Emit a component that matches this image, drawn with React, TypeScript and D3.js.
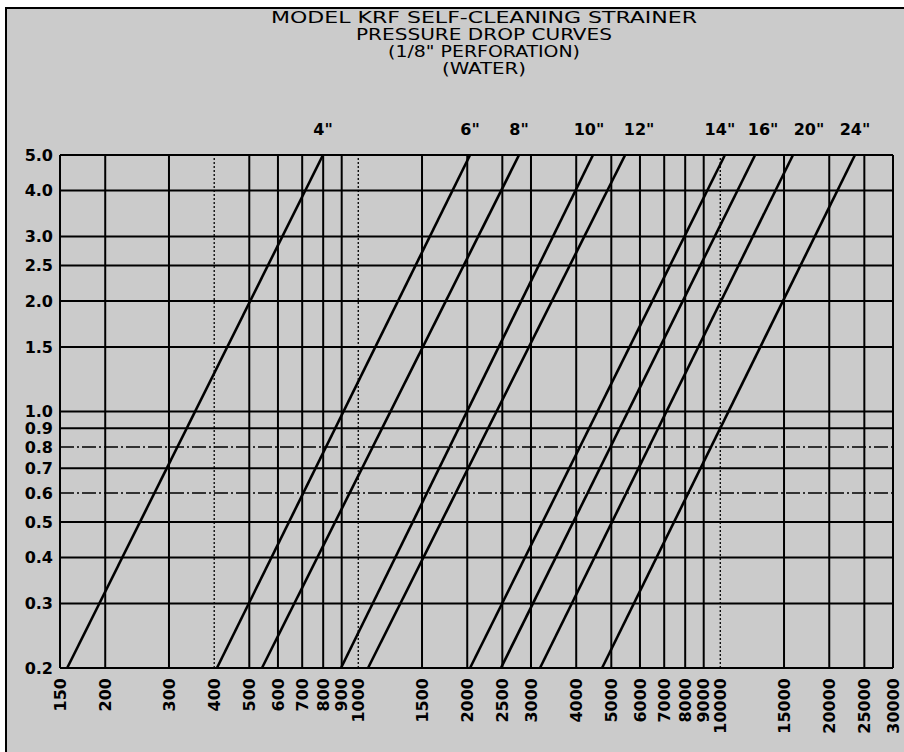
import React, { useEffect, useRef } from 'react';
import * as d3 from 'd3';

// title lines
const titleLines = [
  'MODEL KRF SELF-CLEANING STRAINER',
  'PRESSURE DROP CURVES',
  '(1/8" PERFORATION)',
  '(WATER)',
];

// strainer sizes and flow (GPM) where each curve crosses 0.2 and 5.0 PSI
const sizes = ['4"', '6"', '8"', '10"', '12"', '14"', '16"', '20"', '24"'];
const flowAtLow = [157, 407, 542, 896, 1064, 2036, 2478, 3177, 4715];
const flowAtHigh = [799, 2036, 2780, 4450, 5460, 10300, 12480, 15880, 23550];
const lowDrop = 0.2;
const highDrop = 5.0;

// axis ticks
const flowTicks = [150, 200, 300, 400, 500, 600, 700, 800, 900, 1000, 1500, 2000, 2500, 3000,
  4000, 5000, 6000, 7000, 8000, 9000, 10000, 15000, 20000, 25000, 30000];
const dropTicks = [0.2, 0.3, 0.4, 0.5, 0.6, 0.7, 0.8, 0.9, 1.0, 1.5, 2.0, 2.5, 3.0, 4.0, 5.0];

export default function App() {
  const ref = useRef<SVGSVGElement>(null);

  useEffect(() => {
    const W = 904, H = 752;
    const margin = { top: 155, right: 11, bottom: 84, left: 60 };
    const svg = d3.select(ref.current);
    svg.selectAll('*').remove();

    svg.append('rect').attr('width', W).attr('height', H).attr('fill', '#fff');
    svg.append('rect').attr('x', 6).attr('y', 8).attr('width', W).attr('height', H)
      .attr('fill', '#cbcbcb').attr('stroke', '#000').attr('stroke-width', 2);

    // title
    const title = svg.append('g').attr('font-family', '"DejaVu Sans Condensed", "DejaVu Sans", sans-serif')
      .attr('font-size', 15).attr('text-anchor', 'middle').attr('fill', '#000');
    const widths = [426, 256, 192, 84];
    titleLines.forEach((t, i) => {
      title.append('text').attr('x', 484).attr('y', 23 + i * 17)
        .attr('textLength', widths[i]).attr('lengthAdjust', 'spacingAndGlyphs').text(t);
    });

    const x = d3.scaleLog().domain([150, 30000]).range([margin.left, W - margin.right]);
    const y = d3.scaleLog().domain([lowDrop, highDrop]).range([H - margin.bottom, margin.top]);

    const g = svg.append('g');
    const dottedX = new Set([400, 1000, 10000]);
    const dashedY = new Set([0.6, 0.8]);

    // grid
    g.selectAll('.vgrid').data(flowTicks).enter().append('line')
      .attr('x1', d => x(d)).attr('x2', d => x(d))
      .attr('y1', y(lowDrop)).attr('y2', y(highDrop))
      .attr('stroke', '#000')
      .attr('stroke-width', d => dottedX.has(d) ? 1.3 : 2)
      .attr('stroke-dasharray', d => dottedX.has(d) ? '2,2' : null);
    g.selectAll('.hgrid').data(dropTicks).enter().append('line')
      .attr('y1', d => y(d)).attr('y2', d => y(d))
      .attr('x1', x(150)).attr('x2', x(30000))
      .attr('stroke', '#000')
      .attr('stroke-width', d => dashedY.has(d) ? 1.5 : 2)
      .attr('stroke-dasharray', d => dashedY.has(d) ? '14,3,2,3' : null);

    // curves
    const line = d3.line<[number, number]>().x(d => x(d[0])).y(d => y(d[1]));
    const labelShift: Record<string, number> = { '10"': -4, '12"': 14, '14"': -5, '16"': 8, '20"': 16 };
    sizes.forEach((s, i) => {
      g.append('path')
        .attr('d', line([[flowAtLow[i], lowDrop], [flowAtHigh[i], highDrop]]))
        .attr('fill', 'none').attr('stroke', '#000').attr('stroke-width', 2.6);
      g.append('text')
        .attr('x', x(flowAtHigh[i]) + (labelShift[s] || 0)).attr('y', y(highDrop) - 20)
        .attr('text-anchor', 'middle')
        .attr('font-family', '"DejaVu Sans", sans-serif').attr('font-size', 16).attr('font-weight', 'bold')
        .text(s);
    });

    // y labels
    g.selectAll('.ylab').data(dropTicks).enter().append('text')
      .attr('x', 53).attr('y', d => y(d)).attr('dy', '0.36em')
      .attr('text-anchor', 'end')
      .attr('font-family', '"DejaVu Sans", sans-serif').attr('font-size', 16).attr('font-weight', 'bold')
      .text(d => d.toFixed(1));

    // x labels, rotated
    g.selectAll('.xlab').data(flowTicks).enter().append('text')
      .attr('transform', d => `translate(${x(d)},${H - margin.bottom + 10}) rotate(-90)`)
      .attr('dy', '0.36em')
      .attr('text-anchor', 'end')
      .attr('font-family', '"DejaVu Sans", sans-serif').attr('font-size', 16).attr('font-weight', 'bold')
      .text(d => String(d));
  }, []);

  return (
    <svg ref={ref} width={904} height={752}
      style={{ position: 'absolute', left: 0, top: 0, display: 'block' }} />
  );
}
